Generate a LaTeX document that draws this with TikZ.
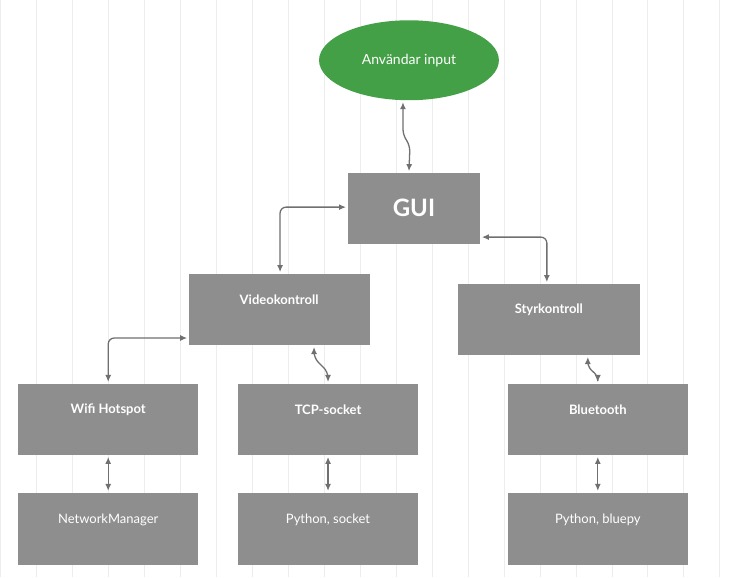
\documentclass[tikz,border=0pt]{standalone}
\usepackage{fontspec}
\setmainfont{Lato}
\usetikzlibrary{arrows.meta,shapes.geometric}
\definecolor{boxgray}{HTML}{8E8E8E}
\definecolor{linegray}{HTML}{707070}
\definecolor{inputgreen}{HTML}{43A047}
\begin{document}
\begin{tikzpicture}
  [x=1pt,y=-1pt,
    box/.style={fill=boxgray,text=white,font=\bfseries\fontsize{13}{15}\selectfont},
    plain/.style={fill=boxgray,text=white,font=\fontsize{13}{15}\selectfont},
    link/.style={draw=linegray,line width=1.3pt,rounded corners=6pt,
      {Latex[length=7pt,width=6pt]}-{Latex[length=7pt,width=6pt]}},
]
  \fill[white] (0,0) rectangle (729,577);
  \draw[black!7,line width=0.6pt] (0,0) grid[step=36] (729,577);
  % boxes
  \node[ellipse,fill=inputgreen,text=white,minimum width=180,minimum height=80,
    font=\fontsize{14}{16}\selectfont] (input) at (409,60) {Användar input};
  \fill[boxgray] (348,173) rectangle (480,244);
  \node[text=white,font=\bfseries\fontsize{24}{28}\selectfont] (gui) at (414,208) {GUI};
  \coordinate (guiW) at (346,207);
  \coordinate (guiE) at (482,237);
  \coordinate (guiN) at (409,171);
  \fill[boxgray] (189,274) rectangle (370,345);
  \node[box] (video) at (279,300) {Videokontroll};
  \fill[boxgray] (458,284) rectangle (640,355);
  \node[box] (styr) at (549,310) {Styrkontroll};
  \foreach \name/\x/\txt in {wifi/18/Wifi Hotspot,tcp/238/TCP-socket,blue/508/Bluetooth}{
    \fill[boxgray] (\x,384) rectangle ++(180,71);
    \node[box] (\name) at (\x+90,410) {\txt};
  }
  \foreach \name/\x/\txt in {nm/18/NetworkManager,pysock/238/{Python, socket},bluepy/508/{Python, bluepy}}{
    \fill[boxgray] (\x,493) rectangle ++(180,72);
    \node[plain] (\name) at (\x+90,520) {\txt};
  }
  % connectors
  \draw[link] (403,102) -- (403,135) -- (410,145) -- (guiN);
  \draw[link] (guiW) -- (280,207) -- (280,272);
  \draw[link] (guiE) -- (547,237) -- (547,282);
  \draw[link] (187,338) -- (108,338) -- (108,382);
  \draw[link] (314,347) -- (314,358) -- (328,372) -- (328,382);
  \draw[link] (588,357) -- (588,368) -- (598,375) -- (598,382);
  \foreach \x in {108,328,598}{
    \draw[link] (\x,457) -- (\x,491);
  }
\end{tikzpicture}
\end{document}
